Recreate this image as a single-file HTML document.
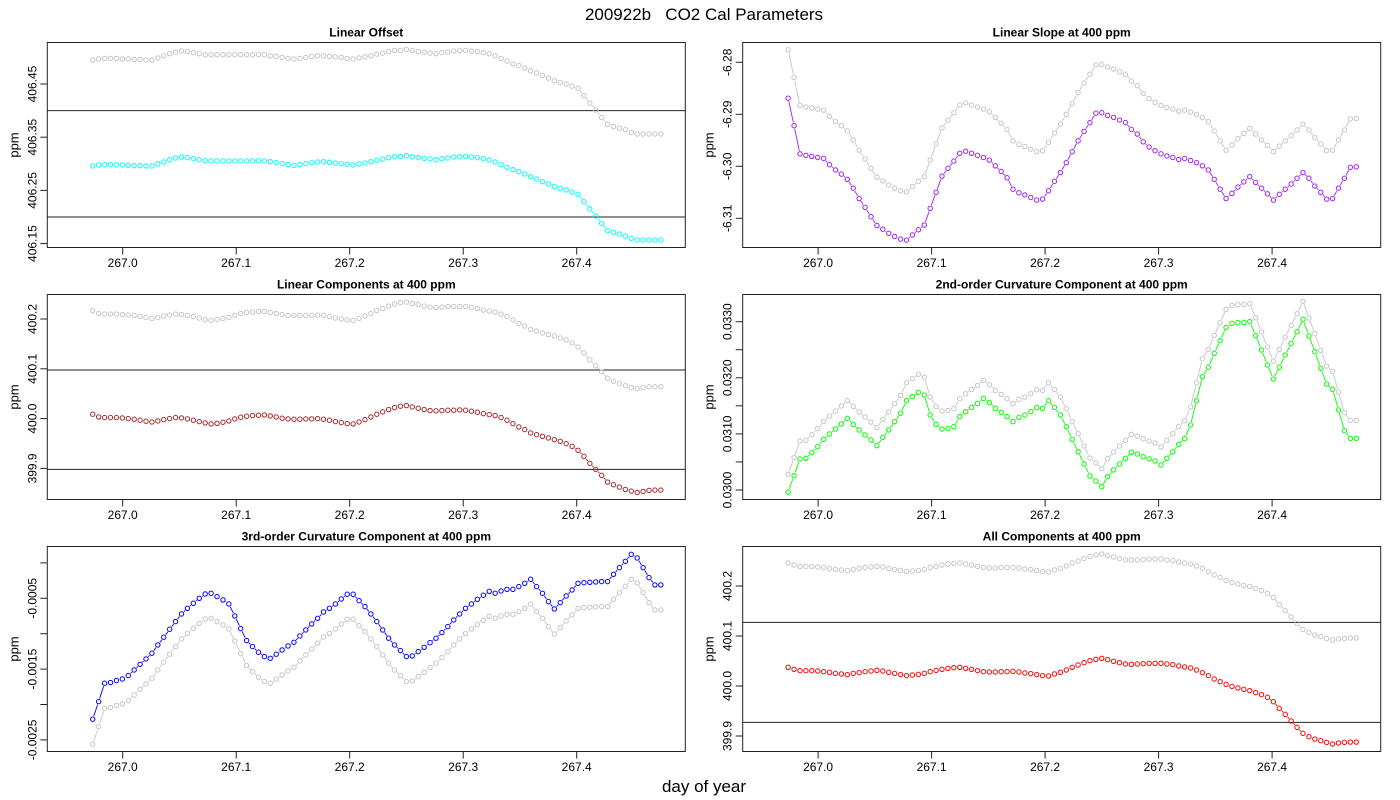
<!DOCTYPE html>
<html><head><meta charset="utf-8"><title>200922b CO2 Cal Parameters</title>
<style>
html,body{margin:0;padding:0;background:#fff;}
svg{display:block;font-family:"Liberation Sans",Arial,sans-serif;}
</style></head>
<body>
<svg id="chart" width="1400" height="800" viewBox="0 0 1400 800" xmlns="http://www.w3.org/2000/svg">
<rect x="0" y="0" width="1400" height="800" fill="#fff"/>
<text x="704" y="20" font-size="17" text-anchor="middle" style="white-space:pre" xml:space="preserve">200922b   CO2 Cal Parameters</text>
<text x="704" y="792" font-size="17" text-anchor="middle">day of year</text>
</svg>
<script>
// ---- sampling (day of year) ----
const sampleStart = 266.9736;
const sampleStep = 0.005214;
const sampleCount = 97;
const xTickValues = [267.0, 267.1, 267.2, 267.3, 267.4];
const xTickLabels = ["267.0", "267.1", "267.2", "267.3", "267.4"];

// ---- Panel 1: Linear Offset ----
const offsetValues = [406.2959,406.2978,406.2984,406.2984,406.2984,406.2978,406.2972,406.2965,406.2965,406.2959,
406.2959,406.2997,406.3034,406.3078,406.3109,406.3128,406.3116,406.3097,406.3078,406.3059,
406.3053,406.3053,406.3053,406.3053,406.3053,406.3053,406.3053,406.3053,406.3059,406.3053,
406.3040,406.3022,406.3003,406.2984,406.2972,406.2984,406.3003,406.3022,406.3034,406.3040,
406.3028,406.3015,406.3003,406.2990,406.2978,406.2997,406.3015,406.3040,406.3066,406.3091,
406.3116,406.3134,406.3141,406.3153,406.3134,406.3116,406.3103,406.3091,406.3078,406.3097,
406.3109,406.3128,406.3134,406.3141,406.3128,406.3116,406.3097,406.3072,406.3034,406.2984,
406.2934,406.2890,406.2852,406.2809,406.2758,406.2715,406.2664,406.2621,406.2571,406.2539,
406.2508,406.2470,406.2426,406.2289,406.2151,406.2019,406.1881,406.1743,406.1712,406.1681,
406.1643,406.1599,406.1568,406.1568,406.1568,406.1568,406.1568];
const offsetRefValues = [406.495,406.497,406.498,406.498,406.498,406.497,406.497,406.496,406.496,406.495,
406.495,406.499,406.503,406.507,406.510,406.512,406.511,406.509,406.507,406.505,
406.505,406.505,406.505,406.505,406.505,406.505,406.505,406.505,406.505,406.505,
406.503,406.502,406.500,406.498,406.497,406.498,406.500,406.502,406.503,406.503,
406.502,406.501,406.500,406.498,406.497,406.499,406.501,406.503,406.506,406.508,
406.511,406.513,406.513,406.515,406.513,406.511,406.510,406.508,406.507,406.509,
406.510,406.512,406.513,406.513,406.512,406.511,406.509,406.507,406.503,406.498,
406.493,406.488,406.485,406.480,406.475,406.471,406.466,406.461,406.456,406.453,
406.450,406.446,406.442,406.428,406.414,406.401,406.387,406.374,406.370,406.367,
406.364,406.359,406.356,406.356,406.356,406.356,406.356];
const offsetHLines = [406.40, 406.20];
const offsetTicks = [406.15, 406.25, 406.35, 406.45];
const offsetTickLabels = ["406.15", "406.25", "406.35", "406.45"];

// ---- Panel 2: Linear Slope ----
const slopeValues = [-6.2869,-6.2922,-6.2976,-6.2979,-6.2981,-6.2983,-6.2985,-6.2997,-6.3007,-6.3015,
-6.3025,-6.3042,-6.3062,-6.3079,-6.3097,-6.3114,-6.3121,-6.3129,-6.3135,-6.3140,
-6.3142,-6.3132,-6.3122,-6.3113,-6.3081,-6.3050,-6.3019,-6.3004,-6.2990,-6.2975,
-6.2971,-6.2975,-6.2979,-6.2983,-6.2988,-6.2999,-6.3010,-6.3022,-6.3044,-6.3051,
-6.3055,-6.3060,-6.3065,-6.3063,-6.3047,-6.3029,-6.3012,-6.2993,-6.2972,-6.2951,
-6.2933,-6.2916,-6.2898,-6.2897,-6.2902,-6.2906,-6.2911,-6.2916,-6.2929,-6.2938,
-6.2953,-6.2963,-6.2970,-6.2976,-6.2980,-6.2983,-6.2987,-6.2985,-6.2989,-6.2993,
-6.2999,-6.3007,-6.3025,-6.3044,-6.3062,-6.3052,-6.3040,-6.3030,-6.3020,-6.3031,
-6.3042,-6.3053,-6.3065,-6.3054,-6.3044,-6.3034,-6.3023,-6.3012,-6.3023,-6.3038,
-6.3050,-6.3063,-6.3062,-6.3042,-6.3023,-6.3002,-6.3001];
const slopeRefValues = [-6.2776,-6.2829,-6.2883,-6.2886,-6.2888,-6.2890,-6.2892,-6.2904,-6.2914,-6.2922,
-6.2932,-6.2949,-6.2969,-6.2986,-6.3004,-6.3021,-6.3028,-6.3036,-6.3042,-6.3047,
-6.3049,-6.3039,-6.3029,-6.3020,-6.2988,-6.2957,-6.2926,-6.2911,-6.2897,-6.2882,
-6.2878,-6.2882,-6.2886,-6.2890,-6.2895,-6.2906,-6.2917,-6.2929,-6.2951,-6.2958,
-6.2962,-6.2967,-6.2972,-6.2970,-6.2954,-6.2936,-6.2919,-6.2900,-6.2879,-6.2858,
-6.2840,-6.2823,-6.2805,-6.2804,-6.2809,-6.2813,-6.2818,-6.2823,-6.2836,-6.2845,
-6.2860,-6.2870,-6.2877,-6.2883,-6.2887,-6.2890,-6.2894,-6.2892,-6.2896,-6.2900,
-6.2906,-6.2914,-6.2932,-6.2951,-6.2969,-6.2959,-6.2947,-6.2937,-6.2927,-6.2938,
-6.2949,-6.2960,-6.2972,-6.2961,-6.2951,-6.2941,-6.2930,-6.2919,-6.2930,-6.2945,
-6.2957,-6.2970,-6.2969,-6.2949,-6.2930,-6.2909,-6.2908];
const slopeTicks = [-6.31, -6.30, -6.29, -6.28];
const slopeTickLabels = ["-6.31", "-6.30", "-6.29", "-6.28"];

// ---- Panel 3: Linear Components ----
const linCompValues = [400.0088,400.0034,400.0020,400.0020,400.0020,400.0014,400.0000,399.9987,399.9967,399.9947,
399.9933,399.9953,399.9980,400.0000,400.0020,400.0014,399.9994,399.9967,399.9940,399.9913,
399.9893,399.9906,399.9927,399.9953,399.9994,400.0027,400.0047,400.0061,400.0067,400.0074,
400.0054,400.0034,400.0007,399.9994,399.9987,399.9987,399.9994,399.9994,400.0000,399.9987,
399.9967,399.9940,399.9920,399.9900,399.9893,399.9933,399.9980,400.0034,400.0088,400.0135,
400.0182,400.0222,400.0249,400.0262,400.0235,400.0208,400.0182,400.0161,400.0155,400.0161,
400.0168,400.0168,400.0175,400.0168,400.0148,400.0128,400.0101,400.0081,400.0061,400.0020,
399.9967,399.9900,399.9833,399.9779,399.9712,399.9678,399.9645,399.9611,399.9577,399.9544,
399.9497,399.9443,399.9363,399.9242,399.9101,399.8980,399.8860,399.8726,399.8672,399.8625,
399.8578,399.8544,399.8517,399.8537,399.8557,399.8564,399.8564];
const linCompRefValues = [400.217,400.211,400.210,400.210,400.210,400.209,400.208,400.207,400.205,400.203,
400.201,400.203,400.206,400.208,400.210,400.209,400.207,400.205,400.202,400.199,
400.197,400.199,400.201,400.203,400.207,400.211,400.213,400.214,400.215,400.215,
400.213,400.211,400.209,400.207,400.207,400.207,400.207,400.207,400.208,400.207,
400.205,400.202,400.200,400.198,400.197,400.201,400.206,400.211,400.217,400.221,
400.226,400.230,400.233,400.234,400.231,400.229,400.226,400.224,400.223,400.224,
400.225,400.225,400.225,400.225,400.223,400.221,400.218,400.216,400.214,400.210,
400.205,400.198,400.191,400.186,400.179,400.176,400.172,400.169,400.166,400.162,
400.158,400.152,400.144,400.132,400.118,400.106,400.094,400.081,400.075,400.070,
400.066,400.062,400.060,400.062,400.064,400.064,400.064];
const linCompHLines = [400.0975, 399.898];
const linCompTicks = [399.9, 400.0, 400.1, 400.2];
const linCompTickLabels = ["399.9", "400.0", "400.1", "400.2"];

// ---- Panel 4: 2nd-order curvature ----
const curv2Values = [0.029960,0.030256,0.030553,0.030565,0.030666,0.030773,0.030903,0.030998,0.031087,0.031177,
0.031277,0.031171,0.031070,0.030981,0.030891,0.030790,0.030939,0.031070,0.031218,0.031366,
0.031592,0.031664,0.031741,0.031693,0.031337,0.031171,0.031087,0.031099,0.031129,0.031307,
0.031396,0.031473,0.031545,0.031634,0.031557,0.031456,0.031384,0.031307,0.031218,0.031295,
0.031337,0.031396,0.031467,0.031456,0.031592,0.031473,0.031337,0.031129,0.030903,0.030683,
0.030464,0.030250,0.030161,0.030060,0.030238,0.030357,0.030464,0.030565,0.030672,0.030642,
0.030594,0.030553,0.030517,0.030446,0.030565,0.030683,0.030814,0.030915,0.031159,0.031592,
0.032020,0.032186,0.032436,0.032661,0.032899,0.032970,0.032982,0.032988,0.033000,0.032751,
0.032495,0.032228,0.031978,0.032186,0.032406,0.032614,0.032822,0.033042,0.032745,0.032465,
0.032168,0.031889,0.031794,0.031426,0.031058,0.030921,0.030921];
const curv2RefValues = [0.030280,0.030576,0.030873,0.030885,0.030986,0.031093,0.031223,0.031318,0.031407,0.031497,
0.031597,0.031491,0.031390,0.031301,0.031211,0.031110,0.031259,0.031390,0.031538,0.031686,
0.031912,0.031984,0.032061,0.032013,0.031657,0.031491,0.031407,0.031419,0.031449,0.031627,
0.031716,0.031793,0.031865,0.031954,0.031877,0.031776,0.031704,0.031627,0.031538,0.031615,
0.031657,0.031716,0.031787,0.031776,0.031912,0.031793,0.031657,0.031449,0.031223,0.031003,
0.030784,0.030570,0.030481,0.030380,0.030558,0.030677,0.030784,0.030885,0.030992,0.030962,
0.030914,0.030873,0.030837,0.030766,0.030885,0.031003,0.031134,0.031235,0.031479,0.031912,
0.032340,0.032506,0.032756,0.032981,0.033219,0.033290,0.033302,0.033308,0.033320,0.033071,
0.032815,0.032548,0.032298,0.032506,0.032726,0.032934,0.033142,0.033362,0.033065,0.032785,
0.032488,0.032209,0.032114,0.031746,0.031378,0.031241,0.031241];
const curv2Ticks = [0.0300, 0.0305, 0.0310, 0.0315, 0.0320, 0.0325, 0.0330];
const curv2TickLabels = ["0.0300", "", "0.0310", "", "0.0320", "", "0.0330"];

// ---- Panel 5: 3rd-order curvature ----
const curv3Values = [-22.08e-4,-19.59e-4,-17.00e-4,-16.90e-4,-16.62e-4,-16.39e-4,-15.92e-4,-15.12e-4,-14.32e-4,-13.56e-4,
-12.76e-4,-11.59e-4,-10.50e-4,-9.37e-4,-8.29e-4,-7.21e-4,-6.41e-4,-5.70e-4,-5.00e-4,-4.39e-4,
-4.29e-4,-4.76e-4,-5.23e-4,-5.80e-4,-7.49e-4,-9.28e-4,-10.97e-4,-11.82e-4,-12.62e-4,-13.23e-4,
-13.47e-4,-12.90e-4,-12.29e-4,-11.73e-4,-11.21e-4,-10.32e-4,-9.47e-4,-8.62e-4,-7.82e-4,-6.93e-4,
-6.41e-4,-5.80e-4,-5.09e-4,-4.43e-4,-4.43e-4,-5.33e-4,-6.17e-4,-7.21e-4,-8.29e-4,-9.47e-4,
-10.64e-4,-11.59e-4,-12.39e-4,-13.23e-4,-13.14e-4,-12.53e-4,-11.92e-4,-11.26e-4,-10.64e-4,-9.84e-4,
-9.00e-4,-8.06e-4,-7.21e-4,-6.41e-4,-5.80e-4,-5.14e-4,-4.57e-4,-4.01e-4,-4.29e-4,-3.96e-4,
-3.73e-4,-3.73e-4,-3.35e-4,-2.88e-4,-2.31e-4,-3.35e-4,-4.29e-4,-5.47e-4,-6.50e-4,-5.61e-4,
-4.67e-4,-3.82e-4,-2.88e-4,-2.79e-4,-2.74e-4,-2.69e-4,-2.64e-4,-2.64e-4,-1.61e-4,-0.67e-4,
0.23e-4,1.21e-4,0.70e-4,-0.67e-4,-2.08e-4,-3.11e-4,-3.11e-4];
const curv3RefValues = [-25.61e-4,-23.12e-4,-20.53e-4,-20.43e-4,-20.15e-4,-19.92e-4,-19.45e-4,-18.65e-4,-17.85e-4,-17.09e-4,
-16.29e-4,-15.12e-4,-14.03e-4,-12.90e-4,-11.82e-4,-10.74e-4,-9.94e-4,-9.23e-4,-8.53e-4,-7.92e-4,
-7.82e-4,-8.29e-4,-8.76e-4,-9.33e-4,-11.02e-4,-12.81e-4,-14.50e-4,-15.35e-4,-16.15e-4,-16.76e-4,
-17.00e-4,-16.43e-4,-15.82e-4,-15.26e-4,-14.74e-4,-13.85e-4,-13.00e-4,-12.15e-4,-11.35e-4,-10.46e-4,
-9.94e-4,-9.33e-4,-8.62e-4,-7.96e-4,-7.96e-4,-8.86e-4,-9.70e-4,-10.74e-4,-11.82e-4,-13.00e-4,
-14.17e-4,-15.12e-4,-15.92e-4,-16.76e-4,-16.67e-4,-16.06e-4,-15.45e-4,-14.79e-4,-14.17e-4,-13.37e-4,
-12.53e-4,-11.59e-4,-10.74e-4,-9.94e-4,-9.33e-4,-8.67e-4,-8.10e-4,-7.54e-4,-7.82e-4,-7.49e-4,
-7.26e-4,-7.26e-4,-6.88e-4,-6.41e-4,-5.84e-4,-6.88e-4,-7.82e-4,-9.00e-4,-10.03e-4,-9.14e-4,
-8.20e-4,-7.35e-4,-6.41e-4,-6.32e-4,-6.27e-4,-6.22e-4,-6.17e-4,-6.17e-4,-5.14e-4,-4.20e-4,
-3.30e-4,-2.32e-4,-2.83e-4,-4.20e-4,-5.61e-4,-6.64e-4,-6.64e-4];
const curv3Ticks = [-0.0025, -0.0020, -0.0015, -0.0010, -0.0005, 0.0000];
const curv3TickLabels = ["-0.0025", "", "-0.0015", "", "-0.0005", ""];

// ---- Panel 6: All components ----
const allCompValues = [400.0374,400.0334,400.0307,400.0307,400.0307,400.0300,400.0287,400.0273,400.0253,400.0240,
400.0227,400.0253,400.0267,400.0287,400.0300,400.0313,400.0300,400.0273,400.0253,400.0227,
400.0207,400.0220,400.0233,400.0253,400.0287,400.0313,400.0334,400.0354,400.0367,400.0374,
400.0354,400.0334,400.0307,400.0287,400.0280,400.0280,400.0287,400.0287,400.0293,400.0280,
400.0260,400.0247,400.0227,400.0207,400.0200,400.0240,400.0273,400.0320,400.0374,400.0420,
400.0467,400.0507,400.0534,400.0554,400.0527,400.0494,400.0467,400.0440,400.0434,400.0440,
400.0447,400.0454,400.0454,400.0454,400.0440,400.0427,400.0400,400.0380,400.0360,400.0320,
400.0267,400.0207,400.0140,400.0087,400.0033,399.9993,399.9960,399.9933,399.9907,399.9867,
399.9827,399.9773,399.9686,399.9553,399.9433,399.9300,399.9173,399.9053,399.8986,399.8939,
399.8906,399.8873,399.8839,399.8859,399.8873,399.8879,399.8879];
const allCompRefValues = [400.246,400.242,400.239,400.239,400.239,400.238,400.237,400.235,400.233,400.232,
400.231,400.233,400.235,400.237,400.238,400.239,400.238,400.235,400.233,400.231,
400.229,400.230,400.231,400.233,400.237,400.239,400.242,400.244,400.245,400.246,
400.244,400.242,400.239,400.237,400.236,400.236,400.237,400.237,400.237,400.236,
400.234,400.233,400.231,400.229,400.228,400.232,400.235,400.240,400.246,400.250,
400.255,400.259,400.262,400.264,400.261,400.258,400.255,400.252,400.252,400.252,
400.253,400.254,400.254,400.254,400.252,400.251,400.248,400.246,400.244,400.240,
400.235,400.229,400.222,400.217,400.211,400.207,400.204,400.201,400.199,400.195,
400.191,400.185,400.177,400.163,400.151,400.138,400.125,400.113,400.107,400.102,
400.099,400.095,400.092,400.094,400.095,400.096,400.096];
const allCompHLines = [400.1273, 399.9273];
const allCompTicks = [399.9, 400.0, 400.1, 400.2];
const allCompTickLabels = ["399.9", "400.0", "400.1", "400.2"];

const NS = "http://www.w3.org/2000/svg";
const svg = document.getElementById("chart");

function mk(tag, attrs, parent) {
  const e = document.createElementNS(NS, tag);
  for (const k in attrs) e.setAttribute(k, attrs[k]);
  (parent || svg).appendChild(e);
  return e;
}

const panels = [
  {name:"linear-offset", title:"Linear Offset", left:47.3, top:42.5, refV:406.45, refPx:84, ppu:532,
   main:offsetValues, ref:offsetRefValues, color:"#00ffff", hl:offsetHLines, ticks:offsetTicks, tl:offsetTickLabels},
  {name:"linear-slope", title:"Linear Slope at 400 ppm", left:742.7, top:42.5, refV:-6.28, refPx:62.3, ppu:5200,
   main:slopeValues, ref:slopeRefValues, color:"#a020f0", hl:[], ticks:slopeTicks, tl:slopeTickLabels},
  {name:"linear-components", title:"Linear Components at 400 ppm", left:47.3, top:294.5, refV:400.2, refPx:319, ppu:498,
   main:linCompValues, ref:linCompRefValues, color:"#a52a2a", hl:linCompHLines, ticks:linCompTicks, tl:linCompTickLabels},
  {name:"curvature-2nd", title:"2nd-order Curvature Component at 400 ppm", left:742.7, top:294.5, refV:0.0330, refPx:321.7, ppu:56100,
   main:curv2Values, ref:curv2RefValues, color:"#00ff00", hl:[], ticks:curv2Ticks, tl:curv2TickLabels},
  {name:"curvature-3rd", title:"3rd-order Curvature Component at 400 ppm", left:47.3, top:546.5, refV:-0.0005, refPx:598.3, ppu:70800,
   main:curv3Values, ref:curv3RefValues, color:"#0000ff", hl:[], ticks:curv3Ticks, tl:curv3TickLabels},
  {name:"all-components", title:"All Components at 400 ppm", left:742.7, top:546.5, refV:400.2, refPx:586, ppu:500,
   main:allCompValues, ref:allCompRefValues, color:"#ff0000", hl:allCompHLines, ticks:allCompTicks, tl:allCompTickLabels}
];
const boxW = 638, boxH = 205;

panels.forEach(p => {
  const g = mk("g", {});
  
  
  const xScale = d => p.left + 75.4 + (d - 267.0) * 1135;
  const yScale = v => p.refPx + (p.refV - v) * p.ppu;
  const bottom = p.top + boxH;

  const t = mk("text", {x: p.left + boxW/2, y: p.top - 6, "font-size": 12, "font-weight": "bold", "text-anchor": "middle"}, g);
  t.textContent = p.title;
  
  

  const b = mk("rect", {x: p.left, y: p.top, width: boxW, height: boxH, fill: "none", stroke: "#222", "stroke-width": 1}, g);
  
  

  const xa = mk("g", {}, g);
  
  
  xTickValues.forEach((d, i) => {
    const x = xScale(d);
    mk("line", {x1: x, y1: bottom, x2: x, y2: bottom + 7, stroke: "#222", "stroke-width": 1}, xa);
    const lt = mk("text", {x: x, y: bottom + 19.5, "font-size": 12, "text-anchor": "middle"}, xa);
    lt.textContent = xTickLabels[i];
    
    
  });

  const ya = mk("g", {}, g);
  
  
  p.ticks.forEach((v, i) => {
    const y = yScale(v);
    mk("line", {x1: p.left - 7, y1: y, x2: p.left, y2: y, stroke: "#222", "stroke-width": 1}, ya);
    if (p.tl[i]) {
      const tx = p.left - 11;
      const lt = mk("text", {x: tx, y: y, "font-size": 12, "text-anchor": "middle", transform: `rotate(-90 ${tx} ${y})`}, ya);
      lt.textContent = p.tl[i];
      
      
    }
  });
  const yl = p.left - 29, ym = p.top + boxH/2;
  const yt = mk("text", {x: yl, y: ym, "font-size": 13, "text-anchor": "middle", transform: `rotate(-90 ${yl} ${ym})`}, g);
  yt.textContent = "ppm";
  
  

  p.hl.forEach(v => {
    const y = yScale(v);
    const l = mk("line", {x1: p.left, y1: y, x2: p.left + boxW, y2: y, stroke: "#222", "stroke-width": 1}, g);
    
    
  });

  // series drawn R "type=b" style: segments with gaps around points
  function drawSeries(vals, color, sname) {
    const sg = mk("g", {}, g);
    
    
    const pts = vals.map((v, i) => [xScale(sampleStart + i * sampleStep), yScale(v)]);
    const gap = 3.2;
    let d = "";
    for (let i = 0; i < pts.length - 1; i++) {
      const dx = pts[i+1][0] - pts[i][0], dy = pts[i+1][1] - pts[i][1];
      const len = Math.hypot(dx, dy);
      if (len > 2 * gap + 0.5) {
        const ux = dx / len, uy = dy / len;
        d += "M" + (pts[i][0] + ux*gap).toFixed(2) + "," + (pts[i][1] + uy*gap).toFixed(2) +
             "L" + (pts[i+1][0] - ux*gap).toFixed(2) + "," + (pts[i+1][1] - uy*gap).toFixed(2);
      }
    }
    if (d) {
      const pl = mk("path", {d: d, fill: "none", stroke: color, "stroke-width": 0.9}, sg);
      
      
    }
    pts.forEach(q => {
      const c = mk("circle", {cx: q[0].toFixed(2), cy: q[1].toFixed(2), r: 2.2, fill: "none", stroke: color, "stroke-width": 1}, sg);
      
      
    });
  }
  drawSeries(p.ref, "#c4c4c4", p.name + '-reference-series');
  drawSeries(p.main, p.color, p.name + '-series');
});
</script>
</body></html>
